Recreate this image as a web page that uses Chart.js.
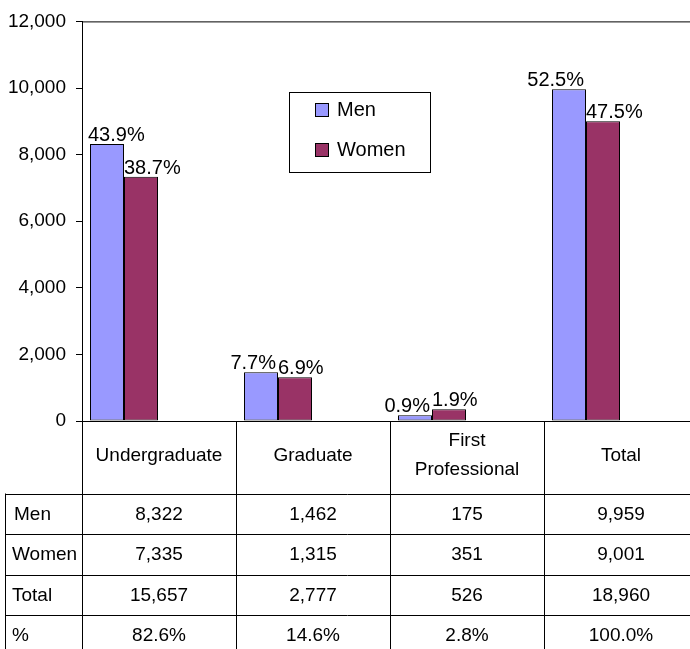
<!DOCTYPE html>
<html>
<head>
<meta charset="utf-8">
<script src="https://cdn.jsdelivr.net/npm/chart.js@4/dist/chart.umd.min.js"></script>
<style>
  html, body { margin: 0; padding: 0; background: #fff; }
  canvas { display: block; }
</style>
</head>
<body>
<canvas id="enrollChart" width="690" height="649"></canvas>
<script>
// Enrollment by level and gender, with data table under the bars
const categories = ["Undergraduate", "Graduate", "First Professional", "Total"];
const menValues = [8322, 1462, 175, 9959];
const womenValues = [7335, 1315, 351, 9001];
const totalValues = [15657, 2777, 526, 18960];
const totalPct = [82.6, 14.6, 2.8, 100.0];
const menPct = [43.9, 7.7, 0.9, 52.5];
const womenPct = [38.7, 6.9, 1.9, 47.5];
const yTicks = [0, 2000, 4000, 6000, 8000, 10000, 12000];

const FONT = "'Liberation Sans', Arial, sans-serif";
const MEN_COLOR = "#9999ff";
const WOMEN_COLOR = "#993366";
// bars sit left of the table columns in the original
const colShift = 0.2727;

function fmt(n) {
  return n.toLocaleString("en-US");
}

const tablePlugin = {
  id: "tablePlugin",
  afterDatasetsDraw(chart) {
    const ctx = chart.ctx;
    const area = chart.chartArea;
    const xs = chart.scales.x;
    const W = chart.width;

    ctx.save();
    // percentage labels above bars: men end at the pair middle, women start there
    ctx.font = "20px " + FONT;
    ctx.fillStyle = "#000";
    ctx.textBaseline = "alphabetic";
    const pcts = [menPct, womenPct];
    chart.data.datasets.forEach((ds, di) => {
      chart.getDatasetMeta(di).data.forEach((el, i) => {
        const txt = pcts[di][i].toFixed(1) + "%";
        if (di === 0) {
          const tw = ctx.measureText(txt).width;
          let x = el.x + el.width / 2 - 2;
          if (x - tw < area.left + 6) x = area.left + 6 + tw; // keep inside plot
          ctx.textAlign = "right";
          ctx.fillText(txt, x, el.y - 3);
        } else {
          ctx.textAlign = "left";
          ctx.fillText(txt, el.x - el.width / 2, el.y - 3);
        }
      });
    });

    // frame lines
    ctx.strokeStyle = "#000";
    ctx.lineWidth = 1;
    ctx.beginPath();
    ctx.moveTo(area.left, area.top + 0.5);
    ctx.lineTo(W, area.top + 0.5);
    ctx.stroke();

    const y0 = Math.round(area.bottom) + 0.5;
    const rowH = 40.5;
    const headBottom = 493.5;
    const rowLines = [headBottom, headBottom + rowH, headBottom + 2 * rowH, headBottom + 3 * rowH];

    ctx.beginPath();
    ctx.moveTo(area.left - 6, y0);
    ctx.lineTo(W, y0);
    rowLines.forEach((y) => {
      ctx.moveTo(5, Math.round(y) + 0.5);
      ctx.lineTo(W, Math.round(y) + 0.5);
    });
    // column edges
    for (let k = 0; k <= categories.length; k++) {
      const x = Math.round(xs.getPixelForValue(k - colShift)) + 0.5;
      if (x > W) continue;
      ctx.moveTo(x, y0);
      ctx.lineTo(x, chart.height);
    }
    ctx.moveTo(5.5, headBottom);
    ctx.lineTo(5.5, chart.height);
    ctx.stroke();

    // header labels
    ctx.font = "19px " + FONT;
    ctx.textBaseline = "middle";
    ctx.textAlign = "center";
    categories.forEach((c, i) => {
      const cx = xs.getPixelForValue(i - colShift + 0.5);
      const words = c.split(" ");
      if (words.length > 1) {
        ctx.fillText(words[0], cx, 441);
        ctx.fillText(words.slice(1).join(" "), cx, 470);
      } else {
        ctx.fillText(c, cx, 456);
      }
    });

    // body rows
    const rows = [
      ["Men", menValues.map(fmt)],
      ["Women", womenValues.map(fmt)],
      ["Total", totalValues.map(fmt)],
      ["%", totalPct.map((p) => p.toFixed(1) + "%")],
    ];
    rows.forEach((r, ri) => {
      const cy = headBottom + rowH * ri + rowH / 2 + 1;
      ctx.textAlign = "left";
      ctx.fillText(r[0], ri === 0 ? 14 : 12, cy);
      ctx.textAlign = "center";
      r[1].forEach((t, i) => {
        ctx.fillText(t, xs.getPixelForValue(i - colShift + 0.5), cy);
      });
    });

    // legend box
    ctx.fillStyle = "#fff";
    ctx.fillRect(289.5, 92.5, 141, 80);
    ctx.strokeRect(289.5, 92.5, 141, 80);
    ctx.font = "20px " + FONT;
    ctx.textAlign = "left";
    chart.data.datasets.forEach((ds, di) => {
      const sy = di === 0 ? 103.5 : 143.5;
      ctx.fillStyle = ds.backgroundColor;
      ctx.fillRect(315.5, sy, 13, 13);
      ctx.strokeRect(315.5, sy, 13, 13);
      ctx.fillStyle = "#000";
      ctx.fillText(ds.label, 337, sy + 7);
    });
    ctx.restore();
  },
};

new Chart(document.getElementById("enrollChart").getContext("2d"), {
  type: "bar",
  data: {
    datasets: [
      {
        label: "Men",
        data: menValues.map((v, i) => ({ x: i, y: v })),
        backgroundColor: MEN_COLOR,
        borderColor: "#000",
        borderWidth: 1,
        borderSkipped: false,
      },
      {
        label: "Women",
        data: womenValues.map((v, i) => ({ x: i, y: v })),
        backgroundColor: WOMEN_COLOR,
        borderColor: "#000",
        borderWidth: 1,
        borderSkipped: false,
      },
    ],
  },
  options: {
    responsive: false,
    animation: false,
    devicePixelRatio: 1,
    categoryPercentage: 0.4416,
    barPercentage: 1,
    layout: { padding: { top: 18, left: 0, right: 0, bottom: 228 } },
    plugins: { legend: { display: false }, tooltip: { enabled: false } },
    scales: {
      x: {
        type: "linear",
        display: false,
        offset: false,
        min: -colShift,
        max: -colShift + 608 / 154,
        afterBuildTicks: (scale) => {
          scale.ticks = categories.map((c, i) => ({ value: i }));
        },
      },
      y: {
        min: 0,
        max: 12000,
        afterBuildTicks: (scale) => {
          scale.ticks = yTicks.map((v) => ({ value: v }));
        },
        afterFit: (scale) => {
          scale.width = 82;
        },
        ticks: {
          color: "#000",
          font: { family: FONT, size: 19 },
          padding: 10,
          callback: (v) => fmt(v),
        },
        grid: {
          drawOnChartArea: false,
          drawTicks: true,
          tickLength: 6,
          color: "#000",
        },
        border: { display: true, color: "#000", width: 1 },
      },
    },
  },
  plugins: [tablePlugin],
});
</script>
</body>
</html>
